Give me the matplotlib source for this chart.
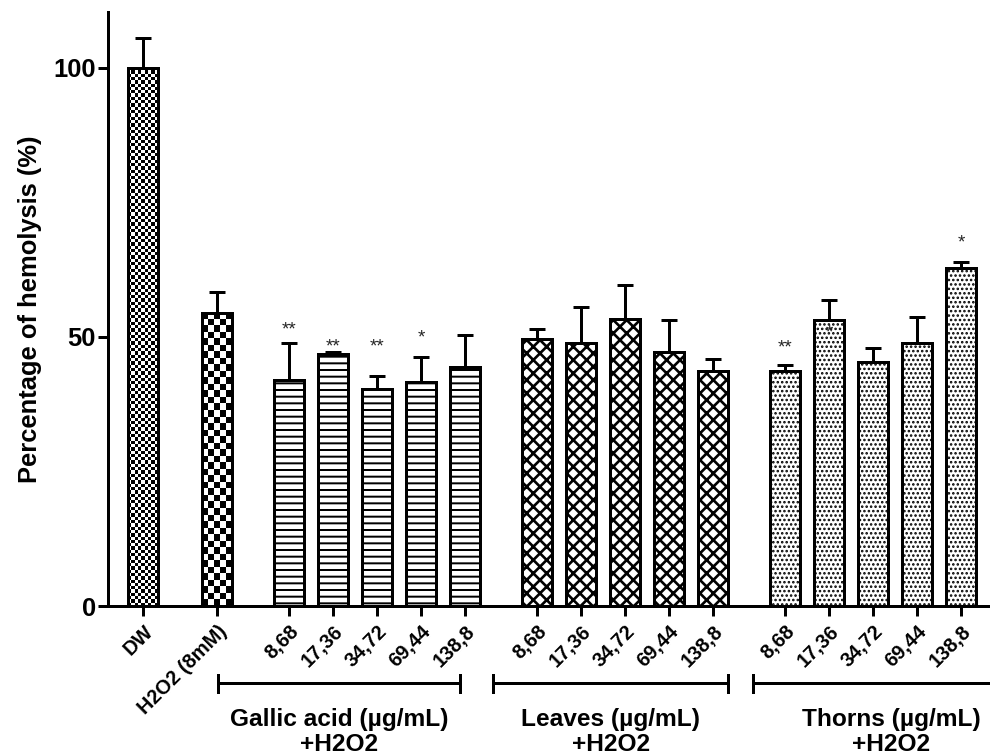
import numpy as np
import matplotlib
matplotlib.use('Agg')
import matplotlib.pyplot as plt

plt.rcParams['font.family'] = ['Liberation Sans', 'DejaVu Sans']
plt.rcParams['font.weight'] = 'bold'

# values (mean and upper error)
control_labels = ['DW', 'H2O2 (8mM)']
control_means = [100.0, 54.5]
control_errs = [5.6, 3.9]

doses = ['8,68', '17,36', '34,72', '69,44', '138,8']

gallic_means = [42.0, 46.8, 40.3, 41.6, 44.4]
gallic_errs = [6.9, 0.4, 2.5, 4.6, 6.0]
gallic_stars = ['**', '**', '**', '*', '']

leaves_means = [49.6, 48.8, 53.3, 47.2, 43.7]
leaves_errs = [1.9, 6.8, 6.4, 6.0, 2.2]
leaves_stars = ['', '', '', '', '']

thorns_means = [43.6, 53.2, 45.4, 48.8, 62.8]
thorns_errs = [1.1, 3.7, 2.6, 5.0, 1.1]
thorns_stars = ['**', '*', '', '', '*']

group_titles = ['Gallic acid (\u00b5g/mL)\n+H2O2', 'Leaves (\u00b5g/mL)\n+H2O2',
                'Thorns (\u00b5g/mL)\n+H2O2']

DPI = 80
fig = plt.figure(figsize=(990 / DPI, 753 / DPI), dpi=DPI)
ax = fig.add_axes([108 / 990, 147 / 753, 882 / 990, 594 / 753])
ax.set_xlim(-0.8, 19.25)
ax.set_ylim(0, 110.4)

W = 0.68
LW = 2.7

# x positions of categories
x_ctrl = np.array([0.0, 1.68])
x_gal = 3.32 + np.arange(5)
x_lea = 8.96 + np.arange(5)
x_tho = 14.6 + np.arange(5)


def px_per_unit():
    p0 = ax.transData.transform((0, 0))
    p1 = ax.transData.transform((1, 1))
    return p1 - p0


def checker_bar(x, h, cell_px):
    # white bar, checkerboard image clipped inside, outline on top
    bar = ax.bar(x, h, W, color='white', edgecolor='black', linewidth=LW, zorder=2)[0]
    ppu = px_per_unit()
    nx = max(1, int(round(W * ppu[0] / cell_px)))
    ny = max(1, int(round(h * ppu[1] / cell_px)))
    board = np.indices((ny, nx)).sum(axis=0) % 2
    ax.imshow(board, cmap='gray', extent=[x - W / 2, x + W / 2, 0, h],
              aspect='auto', interpolation='nearest', zorder=2.5, clip_path=bar)
    ax.bar(x, h, W, fill=False, edgecolor='black', linewidth=LW, zorder=3)


checker_bar(x_ctrl[0], control_means[0], 3.3)
checker_bar(x_ctrl[1], control_means[1], 6.5)

plt.rcParams['hatch.linewidth'] = 1.8
ax.bar(x_gal, gallic_means, W, color='white', edgecolor='black', linewidth=LW,
       hatch='--', zorder=3)
plt.rcParams['hatch.linewidth'] = 2.4
ax.bar(x_lea, leaves_means, W, color='white', edgecolor='black', linewidth=LW,
       hatch='xx', zorder=3)
plt.rcParams['hatch.linewidth'] = 1.5
ax.bar(x_tho, thorns_means, W, color='white', edgecolor='black', linewidth=LW,
       hatch='...', zorder=3)

all_x = np.concatenate([x_ctrl, x_gal, x_lea, x_tho])
all_m = np.concatenate([control_means, gallic_means, leaves_means, thorns_means])
all_e = np.concatenate([control_errs, gallic_errs, leaves_errs, thorns_errs])
ax.errorbar(all_x, all_m, yerr=[np.zeros_like(all_e), all_e], fmt='none',
            ecolor='black', elinewidth=LW, capsize=7, capthick=LW, zorder=4)

# significance stars
star_y = {'gal': [51.3, 48.1, 48.1, 49.8, 0], 'tho': [48.0, 50.7, 0, 0, 67.5]}
for xs, stars, ys in [(x_gal, gallic_stars, star_y['gal']),
                      (x_tho, thorns_stars, star_y['tho'])]:
    for x, s, y in zip(xs, stars, ys):
        if s:
            ax.text(x, y, s, ha='center', va='center', fontsize=17,
                    fontweight='normal', color='0.15', zorder=5)

# axes styling
for side in ['top', 'right']:
    ax.spines[side].set_visible(False)
for side in ['left', 'bottom']:
    ax.spines[side].set_linewidth(LW)
ax.set_yticks([0, 50, 100])
ax.tick_params(axis='y', length=9, width=LW, labelsize=23, pad=2)
ax.tick_params(axis='x', length=9, width=LW, labelsize=18, pad=5)
ax.set_xticks(all_x)
ax.set_xticklabels(control_labels + doses * 3, rotation=45, ha='right',
                   va='top', rotation_mode='anchor')
for lab in ax.get_xticklabels():
    lab.set_fontweight('bold')
ax.set_ylabel('Percentage of hemolysis (%)', fontsize=23, fontweight='bold', labelpad=10)

# group brackets and titles
trans = ax.get_xaxis_transform()
brackets = [(1.70, 7.2), (7.95, 13.3), (13.86, 20.14)]
for (b0, b1), title in zip(brackets, group_titles):
    ax.plot([b0, b1], [-0.13, -0.13], color='black', lw=LW, transform=trans,
            clip_on=False, solid_capstyle='butt')
    for b in (b0, b1):
        ax.plot([b, b], [-0.144, -0.116], color='black', lw=LW, transform=trans,
                clip_on=False)
    ax.text((b0 + b1) / 2, -0.212, title, transform=trans, ha='center', va='center',
            fontsize=22, fontweight='bold', linespacing=1.12)

fig.savefig('out.png', dpi=DPI)
